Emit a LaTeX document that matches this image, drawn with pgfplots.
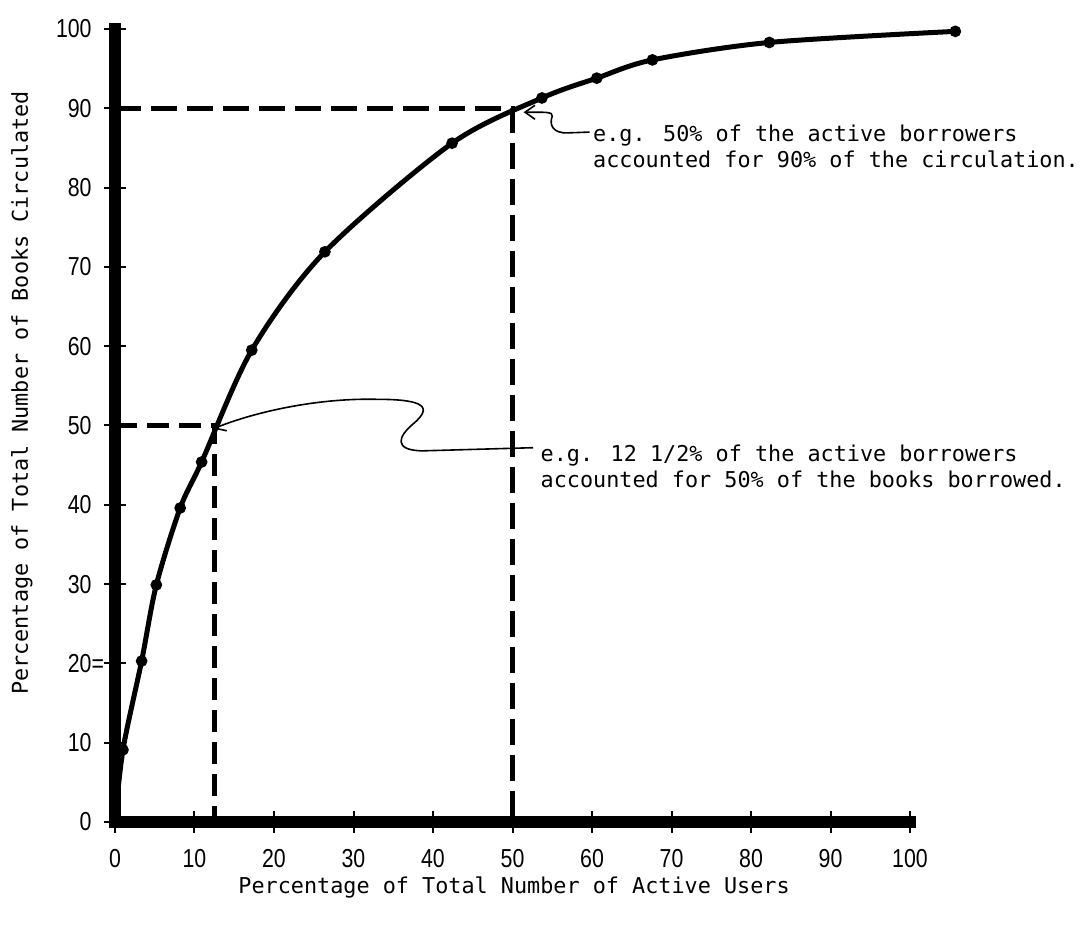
\documentclass[border=0pt]{standalone}
\usepackage{fontspec}
\setmainfont{DejaVu Sans Mono}
\newfontfamily\tickfont[FakeStretch=0.82]{Liberation Sans}
\usepackage{pgfplots}
\pgfplotsset{compat=1.18}
\usetikzlibrary{arrows.meta}

% cumulative share of circulation vs share of active users
\pgfplotstableread{
x y
0 0
1.0 9.1
3.35 20.3
5.2 29.9
8.2 39.6
10.9 45.4
17.2 59.5
26.4 71.9
42.4 85.6
53.7 91.3
60.6 93.8
67.6 96.1
82.3 98.3
105.7 99.7
}\circtable

\begin{document}
\begin{tikzpicture}
\begin{axis}[
    scale only axis,
    width=397.5pt, height=396.5pt,
    xmin=0, xmax=100, ymin=0, ymax=100,
    axis lines=left,
    axis line style={-, line width=5.8pt, line cap=rect},
    clip=false,
    xtick={0,10,...,100}, ytick={0,10,...,100},
    xticklabels={0,10,20,30,40,50,60,70,80,90,100},
    yticklabels={0,10,20\rlap{=},30,40,50,60,70,80,90,100},
    major tick length=11pt,
    tick align=center,
    tick style={black, line width=1pt},
    ticklabel style={font=\tickfont\fontsize{13}{13}\selectfont, inner sep=0pt},
    xticklabel style={anchor=north, yshift=-8pt},
    yticklabel style={anchor=east, xshift=-6pt},
    label style={font=\fontsize{10.9}{13}\selectfont},
    xlabel={Percentage of Total Number of Active Users},
    ylabel={Percentage of Total Number of Books Circulated},
    xlabel style={at={(axis description cs:0.502,-0.083)}, anchor=center},
    ylabel style={at={(axis description cs:-0.117,0.541)}, anchor=center},
]
\coordinate (O) at (axis cs:0,0);

% guide lines
\addplot[black, line width=2.4pt, dash pattern=on 13pt off 5pt] coordinates {(0,90) (50,90) (50,0)};
\addplot[black, line width=2.4pt, dash pattern=on 11pt off 5pt] coordinates {(0,50) (12.5,50) (12.5,0)};

% curve
\addplot[black, line width=2.5pt, line cap=round, smooth, mark=*, mark size=1.6pt,
    mark indices={2,3,4,5,6,7,8,9,10,11,12,13,14}] table {\circtable};

% annotations
\draw[line width=0.8pt, -{Straight Barb[length=5pt,width=7pt]}]
    (59.7,87.0) -- (57.0,86.9) .. controls (55.0,86.8) and (54.6,88.0) .. (55.0,89.0)
    .. controls (55.2,89.6) and (53.8,89.5) .. (51.4,89.5);
\draw[line width=0.8pt, -{Straight Barb[length=5pt,width=7pt]}]
    (52.6,47.2) -- (38.6,46.8) .. controls (35.0,46.9) and (35.6,48.6) .. (37.5,50.2)
    .. controls (40.0,52.3) and (39.0,53.3) .. (33.0,53.3)
    .. controls (25.0,53.5) and (17.0,51.5) .. (12.4,49.6);

\node[anchor=base west, font=\fontsize{10.9}{13}\selectfont, inner sep=0pt] at (axis cs:60.1,85.75) {e.g. 50\% of the active borrowers};
\node[anchor=base west, font=\fontsize{10.9}{13}\selectfont, inner sep=0pt] at (axis cs:60.1,82.5) {accounted for 90\% of the circulation.};
\node[anchor=base west, font=\fontsize{10.9}{13}\selectfont, inner sep=0pt] at (axis cs:53.5,45.5) {e.g. 12 1/2\% of the active borrowers};
\node[anchor=base west, font=\fontsize{10.9}{13}\selectfont, inner sep=0pt] at (axis cs:53.5,42.2) {accounted for 50\% of the books borrowed.};
\end{axis}
\pgfresetboundingbox
\path[use as bounding box] (O) ++(-57.5pt,-54pt) rectangle ++(540pt,465pt);
\end{tikzpicture}
\end{document}
